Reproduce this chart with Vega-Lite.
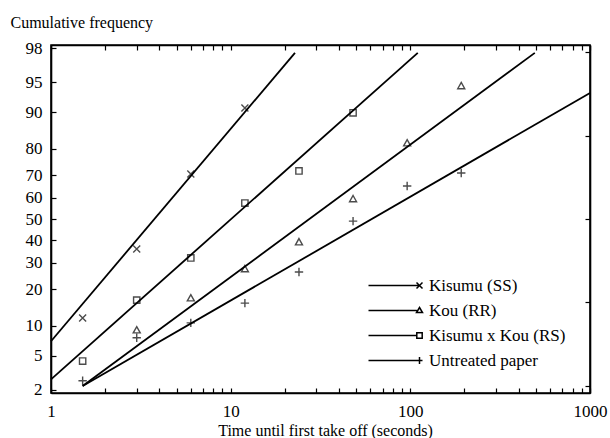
{
  "$schema": "https://vega.github.io/schema/vega-lite/v6.json",
  "width": 539,
  "height": 348,
  "autosize": {"type": "none"},
  "padding": {"left": 51, "top": 45, "right": 20, "bottom": 45},
  "background": "white",
  "config": {
    "view": {"stroke": "black", "strokeWidth": 1.6},
    "font": "Liberation Serif, DejaVu Serif, serif",
    "text": {"font": "Liberation Serif, DejaVu Serif, serif"},
    "legend": {"labelFont": "Liberation Serif, DejaVu Serif, serif"},
    "axis": {
      "grid": false,
      "domainColor": "black",
      "domainWidth": 1.6,
      "tickColor": "black",
      "tickWidth": 1.2,
      "labelColor": "black",
      "titleColor": "black",
      "labelFont": "Liberation Serif, DejaVu Serif, serif",
      "titleFont": "Liberation Serif, DejaVu Serif, serif",
      "titleFontWeight": "normal",
      "labelFontSize": 17,
      "titleFontSize": 16
    }
  },
  "datasets": {
    "fits": [
      {"series": "Kisumu (SS)", "t": 1, "pct": 7.1},
      {"series": "Kisumu (SS)", "t": 22.8, "pct": 97.7},
      {"series": "Kisumu x Kou (RS)", "t": 1, "pct": 2.7},
      {"series": "Kisumu x Kou (RS)", "t": 110, "pct": 97.7},
      {"series": "Kou (RR)", "t": 1.5, "pct": 2.24},
      {"series": "Kou (RR)", "t": 493, "pct": 97.7},
      {"series": "Untreated paper", "t": 1.5, "pct": 2.24},
      {"series": "Untreated paper", "t": 1000, "pct": 93.5}
    ],
    "obs": [
      {"series": "Kisumu (SS)", "t": 1.5, "pct": 11.7},
      {"series": "Kisumu (SS)", "t": 3, "pct": 35.9},
      {"series": "Kisumu (SS)", "t": 6, "pct": 70.6},
      {"series": "Kisumu (SS)", "t": 12, "pct": 90.9},
      {"series": "Kou (RR)", "t": 3, "pct": 9.1},
      {"series": "Kou (RR)", "t": 6, "pct": 17.1},
      {"series": "Kou (RR)", "t": 12, "pct": 27.4},
      {"series": "Kou (RR)", "t": 24, "pct": 39.1},
      {"series": "Kou (RR)", "t": 48, "pct": 59.5},
      {"series": "Kou (RR)", "t": 96, "pct": 81.9},
      {"series": "Kou (RR)", "t": 192, "pct": 94.5},
      {"series": "Kisumu x Kou (RS)", "t": 1.5, "pct": 4.4},
      {"series": "Kisumu x Kou (RS)", "t": 3, "pct": 16.5},
      {"series": "Kisumu x Kou (RS)", "t": 6, "pct": 32},
      {"series": "Kisumu x Kou (RS)", "t": 12, "pct": 57.6},
      {"series": "Kisumu x Kou (RS)", "t": 24, "pct": 71.8},
      {"series": "Kisumu x Kou (RS)", "t": 48, "pct": 89.9},
      {"series": "Untreated paper", "t": 1.5, "pct": 2.6},
      {"series": "Untreated paper", "t": 3, "pct": 7.7},
      {"series": "Untreated paper", "t": 6, "pct": 10.6},
      {"series": "Untreated paper", "t": 12, "pct": 15.6},
      {"series": "Untreated paper", "t": 24, "pct": 26.2},
      {"series": "Untreated paper", "t": 48, "pct": 49},
      {"series": "Untreated paper", "t": 96, "pct": 65.4},
      {"series": "Untreated paper", "t": 192, "pct": 71}
    ]
  },
  "layer": [
    {
      "data": {"name": "fits"},
      "transform": [{"calculate": "quantileNormal(datum.pct / 100)", "as": "z"}],
      "mark": {"type": "line", "color": "black", "strokeWidth": 1.8},
      "encoding": {
        "x": {
          "field": "t", "type": "quantitative",
          "scale": {"type": "log", "domain": [1, 1000], "nice": false},
          "axis": {
            "orient": "bottom",
            "values": [1,2,3,4,5,6,7,8,9,10,20,30,40,50,60,70,80,90,100,200,300,400,500,600,700,800,900,1000],
            "labelExpr": "(datum.value == 1 || datum.value == 10 || datum.value == 100 || datum.value == 1000) ? format(datum.value, 'd') : ''",
            "tickSize": -5,
            "labelPadding": 15,
            "labelFlush": false,
            "labelOverlap": false,
            "title": "Time until first take off (seconds)",
            "titleX": 274,
            "titleY": 37,
            "titleBaseline": "middle"
          }
        },
        "y": {
          "field": "z", "type": "quantitative",
          "scale": {"domain": [-2.09, 2.09], "nice": false, "zero": false},
          "axis": {
            "orient": "left",
            "values": [-2.0537, -1.6449, -1.2816, -0.8416, -0.5244, -0.2533, 0, 0.2533, 0.5244, 0.8416, 1.2816, 1.6449, 2.0537],
            "labelExpr": "format(cumulativeNormal(datum.value) * 100, '.0f')",
            "tickSize": -5,
            "labelPadding": 14,
            "labelOverlap": false,
            "labelFlush": false,
            "title": "Cumulative frequency",
            "titleAngle": 0,
            "titleAlign": "left",
            "titleBaseline": "middle",
            "titleX": -41,
            "titleY": -23
          }
        },
        "detail": {"field": "series"}
      }
    },
    {
      "data": {"name": "obs"},
      "transform": [{"calculate": "quantileNormal(datum.pct / 100)", "as": "z"}],
      "mark": {"type": "point", "filled": false, "color": "black", "strokeWidth": 1.4, "size": 49},
      "encoding": {
        "x": {
          "field": "t", "type": "quantitative",
          "axis": {
            "orient": "top",
            "values": [1,2,3,4,5,6,7,8,9,10,20,30,40,50,60,70,80,90,100,200,300,400,500,600,700,800,900,1000],
            "labels": false,
            "tickSize": -5,
            "title": null
          }
        },
        "y": {
          "field": "z", "type": "quantitative",
          "axis": {
            "orient": "right",
            "values": [-2, -1, 0, 1, 2],
            "labels": false,
            "tickSize": -5,
            "title": null
          }
        },
        "shape": {
          "field": "series", "type": "nominal",
          "scale": {
            "domain": ["Kisumu (SS)", "Kou (RR)", "Kisumu x Kou (RS)", "Untreated paper"],
            "range": ["M-1,-1L1,1M-1,1L1,-1", "M0,-1L1,0.8L-1,0.8Z", "M-0.9,-0.9H0.9V0.9H-0.9Z", "M-1.2,0H1.2M0,-1.2V1.2"]
          },
          "legend": null
        }
      }
    },
    {
      "data": {"name": "obs"},
      "transform": [{"calculate": "quantileNormal(datum.pct / 100)", "as": "z"}],
      "mark": {"type": "point", "filled": false, "color": "black", "opacity": 0},
      "encoding": {
        "x": {"field": "t", "type": "quantitative", "axis": null},
        "y": {"field": "z", "type": "quantitative", "axis": null},
        "shape": {
          "field": "series", "type": "nominal",
          "scale": {
            "domain": ["Kisumu (SS)", "Kou (RR)", "Kisumu x Kou (RS)", "Untreated paper"],
            "range": [
              "M-0.85,0H0.85M0.75,-0.1L0.95,0.1M0.75,0.1L0.95,-0.1",
              "M-0.85,0H0.76M0.85,-0.1L0.95,0.07L0.75,0.07Z",
              "M-0.85,0H0.76M0.76,-0.09H0.94V0.09H0.76Z",
              "M-0.85,0H0.95M0.85,-0.12V0.12"
            ]
          },
          "legend": {
            "orient": "none",
            "legendX": 312,
            "legendY": 228,
            "title": null,
            "padding": 0,
            "symbolSize": 3600,
            "symbolStrokeColor": "black",
            "symbolFillColor": "transparent",
            "symbolStrokeWidth": 1.5,
            "symbolOpacity": 1,
            "labelFont": "Liberation Serif, DejaVu Serif, serif",
            "labelFontSize": 17,
            "labelColor": "black",
            "labelOffset": 4,
            "clipHeight": 25,
            "rowPadding": 0
          }
        }
      }
    }
  ],
  "resolve": {
    "axis": {"x": "independent", "y": "independent"},
    "scale": {"shape": "independent"},
    "legend": {"shape": "independent"}
  }
}
